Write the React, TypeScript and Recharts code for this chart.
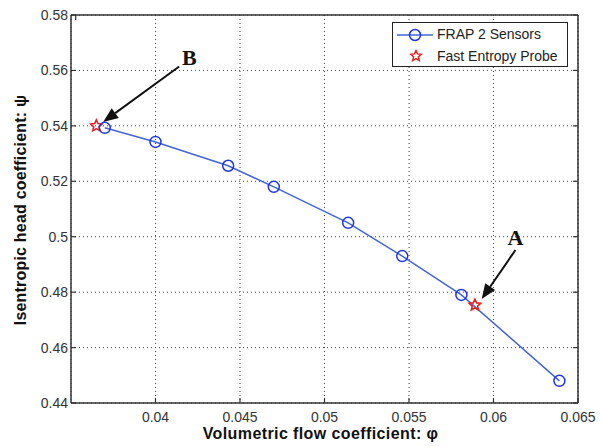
import React from 'react';
import {
  ComposedChart,
  Line,
  Scatter,
  XAxis,
  YAxis,
  CartesianGrid,
  ReferenceLine,
  ReferenceDot,
  Legend,
} from 'recharts';

// FRAP 2 sensors operating line
const phi = [0.037, 0.04, 0.0443, 0.047, 0.0514, 0.0546, 0.0581, 0.0639];
const psi = [0.5393, 0.5342, 0.5256, 0.518, 0.505, 0.493, 0.479, 0.448];

// fast entropy probe points (A, B)
const probePhi = [0.0589, 0.0365];
const probePsi = [0.4753, 0.54];

// annotation arrows, in data units
const arrowTailPhi = [0.0613, 0.0414];
const arrowTailPsi = [0.4952, 0.5614];
const arrowHeadPhi = [0.0593, 0.0369];
const arrowHeadPsi = [0.4775, 0.5414];
const labelText = ['A', 'B'];
const labelPhi = [0.0613, 0.042];
const labelPsi = [0.4998, 0.5648];

const xTicks = [0.04, 0.045, 0.05, 0.055, 0.06, 0.065];
const yTicks = [0.44, 0.46, 0.48, 0.5, 0.52, 0.54, 0.56, 0.58];

const frapData = phi.map((x, i) => ({ phi: x, psi: psi[i] }));
const probeData = probePhi.map((x, i) => ({ phi: x, psi: probePsi[i] }));

const fmt = (v: number) => String(Number(v.toFixed(3)));
const FONT = '"Liberation Sans", Arial, Helvetica, sans-serif';
const BLUE_LINE = '#4464d8';
const BLUE_DOT = '#1f36e0';
const RED = '#e3241e';

function starPath(cx: number, cy: number, R: number, r: number) {
  let d = '';
  for (let i = 0; i < 10; i++) {
    const rad = i % 2 === 0 ? R : r;
    const a = -Math.PI / 2 + (i * Math.PI) / 5;
    d += (i === 0 ? 'M' : 'L') + (cx + rad * Math.cos(a)).toFixed(2) + ',' + (cy + rad * Math.sin(a)).toFixed(2);
  }
  return d + 'Z';
}

const Star = (props: any) => {
  const { cx, cy } = props;
  return <path d={starPath(cx, cy, 6, 2.8)} fill="none" stroke={RED} strokeWidth={1.6} />;
};

const OpenCircle = (props: any) => {
  const { cx, cy, index } = props;
  return <circle key={index} cx={cx} cy={cy} r={5.5} fill="none" stroke={BLUE_DOT} strokeWidth={1.5} />;
};

const BottomTick = (props: any) => {
  const { x, y, payload } = props;
  return (
    <g>
      <line x1={x} y1={y} x2={x} y2={y - 5} stroke="#333" strokeWidth={1.2} />
      <text x={x} y={y + 19} textAnchor="middle" fontSize={14} fill="#333" fontFamily={FONT}>
        {fmt(payload.value)}
      </text>
    </g>
  );
};

const LeftTick = (props: any) => {
  const { x, y, payload } = props;
  return (
    <g>
      <line x1={x} y1={y} x2={x + 5} y2={y} stroke="#333" strokeWidth={1.2} />
      <text x={x - 3} y={y + 5} textAnchor="end" fontSize={14} fill="#333" fontFamily={FONT}>
        {fmt(payload.value)}
      </text>
    </g>
  );
};

const TopTick = (props: any) => {
  const { x, y } = props;
  return <line x1={x} y1={y} x2={x} y2={y + 5} stroke="#333" strokeWidth={1.2} />;
};

const RightTick = (props: any) => {
  const { x, y } = props;
  return <line x1={x} y1={y} x2={x - 5} y2={y} stroke="#333" strokeWidth={1.2} />;
};

const Arrow = (props: any) => {
  const { x1, y1, x2, y2 } = props;
  const ang = Math.atan2(y2 - y1, x2 - x1);
  const len = 15;
  const w = 6;
  const bx = x2 - len * Math.cos(ang);
  const by = y2 - len * Math.sin(ang);
  const px = -Math.sin(ang) * w;
  const py = Math.cos(ang) * w;
  return (
    <g>
      <line x1={x1} y1={y1} x2={bx} y2={by} stroke="#111" strokeWidth={2} />
      <polygon points={`${x2},${y2} ${bx + px},${by + py} ${bx - px},${by - py}`} fill="#111" />
    </g>
  );
};

const makeLabel = (text: string) => (props: any) => (
  <text
    x={props.cx}
    y={props.cy + 8}
    textAnchor="middle"
    fontSize={22}
    fontWeight="bold"
    fontFamily='"Liberation Serif", "Times New Roman", serif'
    fill="#111"
  >
    {text}
  </text>
);

const YTitle = (props: any) => {
  const { viewBox } = props;
  const cx = 20;
  const cy = viewBox.y + viewBox.height / 2 + 1;
  return (
    <text
      x={cx}
      y={cy}
      transform={`rotate(-90 ${cx} ${cy})`}
      textAnchor="middle"
      dominantBaseline="central"
      fontSize={16}
      letterSpacing={0.2}
      fontWeight="bold"
      fill="#111"
      fontFamily={FONT}
    >
      {'Isentropic head coefficient: \u03c8'}
    </text>
  );
};

const XTitle = (props: any) => {
  const { viewBox } = props;
  const cx = viewBox.x + viewBox.width / 2 - 4;
  const cy = 433;
  return (
    <text
      x={cx}
      y={cy}
      textAnchor="middle"
      dominantBaseline="central"
      fontSize={16}
      letterSpacing={0.4}
      fontWeight="bold"
      fill="#111"
      fontFamily={FONT}
    >
      {'Volumetric flow coefficient: \u03c6'}
    </text>
  );
};

const LegendBox = () => (
  <div
    style={{
      width: 176,
      height: 45,
      border: '1.5px solid #222',
      background: '#fff',
      fontFamily: FONT,
      fontSize: 14,
      color: '#222',
      boxSizing: 'border-box',
      position: 'relative',
    }}
  >
    <svg width={42} height={43} style={{ position: 'absolute', left: 2, top: 0 }}>
      <line x1={2} y1={12} x2={38} y2={12} stroke={BLUE_LINE} strokeWidth={1.5} />
      <circle cx={20} cy={12} r={5.5} fill="none" stroke={BLUE_DOT} strokeWidth={1.5} />
      <path d={starPath(21, 33, 5.5, 2.6)} fill="none" stroke={RED} strokeWidth={1.5} />
    </svg>
    <div style={{ position: 'absolute', left: 44, top: 3, whiteSpace: 'nowrap' }}>FRAP 2 Sensors</div>
    <div style={{ position: 'absolute', left: 44, top: 25, whiteSpace: 'nowrap' }}>Fast Entropy Probe</div>
  </div>
);

export default function App() {
  return (
    <div style={{ position: 'absolute', left: 0, top: 0, background: '#fff' }}>
      <ComposedChart width={603} height={447} data={frapData} margin={{ top: 14, right: 24, bottom: 0, left: 0 }}>
        <CartesianGrid stroke="#444" strokeDasharray="1 3" strokeWidth={1} />
        <XAxis
          dataKey="phi"
          type="number"
          domain={[0.035, 0.065]}
          ticks={xTicks}
          allowDataOverflow
          height={44}
          tickSize={0}
          tickMargin={0}
          tickLine={false}
          tick={BottomTick}
          axisLine={{ stroke: '#333', strokeWidth: 1.5 }}
          label={XTitle}
        />
        <XAxis
          xAxisId="top"
          orientation="top"
          type="number"
          domain={[0.035, 0.065]}
          ticks={xTicks}
          allowDataOverflow
          height={1}
          tickSize={0}
          tickMargin={0}
          tickLine={false}
          tick={TopTick}
          axisLine={{ stroke: '#333', strokeWidth: 1.5 }}
        />
        <YAxis
          type="number"
          domain={[0.44, 0.58]}
          ticks={yTicks}
          allowDataOverflow
          width={71}
          tickSize={0}
          tickMargin={0}
          tickLine={false}
          tick={LeftTick}
          axisLine={{ stroke: '#333', strokeWidth: 1.5 }}
          label={YTitle}
        />
        <YAxis
          yAxisId="right"
          orientation="right"
          type="number"
          domain={[0.44, 0.58]}
          ticks={yTicks}
          allowDataOverflow
          width={1}
          tickSize={0}
          tickMargin={0}
          tickLine={false}
          tick={RightTick}
          axisLine={{ stroke: '#333', strokeWidth: 1.5 }}
        />
        <Legend
          layout="vertical"
          align="center"
          verticalAlign="middle"
          content={LegendBox}
          wrapperStyle={{ left: 392, top: 22, width: 176, height: 45 }}
        />
        <Line
          dataKey="psi"
          name="FRAP 2 Sensors"
          type="linear"
          stroke={BLUE_LINE}
          strokeWidth={1.5}
          dot={OpenCircle}
          activeDot={false}
          isAnimationActive={false}
        />
        <Scatter
          data={probeData}
          dataKey="psi"
          name="Fast Entropy Probe"
          shape={Star}
          isAnimationActive={false}
        />
        {arrowTailPhi.map((x, i) => (
          <ReferenceLine
            key={'arrow' + i}
            segment={[
              { x, y: arrowTailPsi[i] },
              { x: arrowHeadPhi[i], y: arrowHeadPsi[i] },
            ]}
            ifOverflow="visible"
            shape={Arrow}
          />
        ))}
        {labelText.map((t, i) => (
          <ReferenceDot
            key={'label' + i}
            x={labelPhi[i]}
            y={labelPsi[i]}
            r={0}
            ifOverflow="visible"
            shape={makeLabel(t)}
          />
        ))}
      </ComposedChart>
    </div>
  );
}
